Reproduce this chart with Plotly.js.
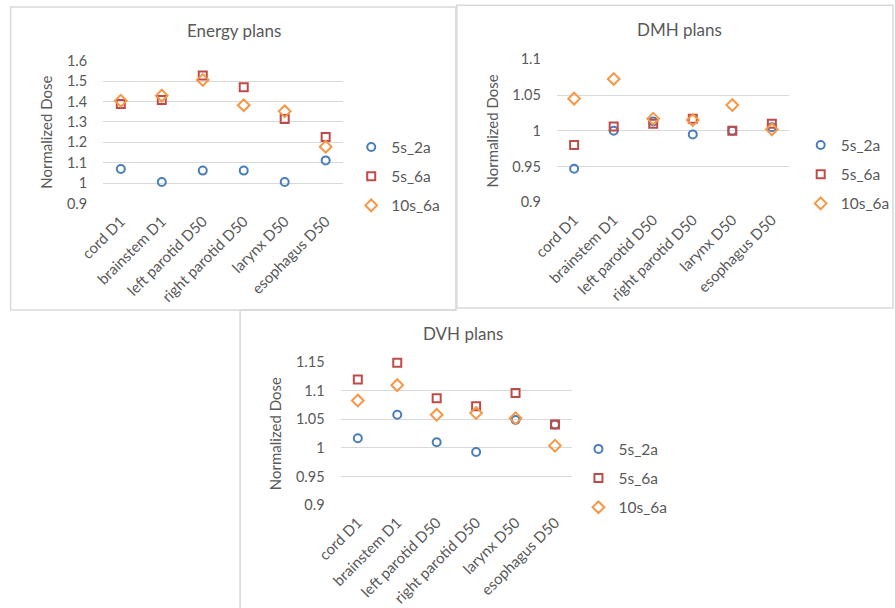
<!DOCTYPE html>
<html>
<head>
<meta charset="utf-8">
<script src="https://cdn.plot.ly/plotly-3.0.1.min.js"></script>
<style>html,body{margin:0;padding:0;background:#fff;}#chart{width:895px;height:608px;}</style>
</head>
<body>
<div id="chart"></div>
<script>
// Categories shared by all three panels
const categories = ["cord D1", "brainstem D1", "left parotid D50", "right parotid D50", "larynx D50", "esophagus D50"];
const seriesNames = ["5s_2a", "5s_6a", "10s_6a"];

// Energy plans
const energy_5s_2a  = [1.07, 1.006, 1.062, 1.062, 1.006, 1.112];
const energy_5s_6a  = [1.388, 1.408, 1.528, 1.47, 1.315, 1.227];
const energy_10s_6a = [1.404, 1.429, 1.506, 1.382, 1.352, 1.179];

// DMH plans
const dmh_5s_2a  = [0.947, 1.0, 1.013, 0.995, 1.0, 1.005];
const dmh_5s_6a  = [0.980, 1.006, 1.01, 1.017, 1.0, 1.01];
const dmh_10s_6a = [1.045, 1.0725, 1.017, 1.015, 1.036, 1.002];

// DVH plans
const dvh_5s_2a  = [1.017, 1.058, 1.01, 0.993, 1.049, 1.041];
const dvh_5s_6a  = [1.12, 1.149, 1.087, 1.073, 1.096, 1.041];
const dvh_10s_6a = [1.083, 1.11, 1.058, 1.061, 1.052, 1.004];

const W = 895, H = 608;
const px = v => v / W;
const py = v => 1 - v / H;

const colors = ["#4a7ebb", "#be4b48", "#f79646"];
const symbols = ["circle-open", "square-open", "diamond-open"];
const sizes = [8, 8, 9];
const textColor = "#595959";
const FONT = "Lato, 'Open Sans', sans-serif";

function makeTraces(sets, axisSuffix, legendId) {
  return sets.map((vals, i) => ({
    type: "scatter",
    mode: "markers",
    x: categories,
    y: vals,
    name: seriesNames[i],
    xaxis: "x" + axisSuffix,
    yaxis: "y" + axisSuffix,
    legend: legendId,
    legendgroup: legendId + "_" + i,
    cliponaxis: false,
    marker: {symbol: symbols[i], size: sizes[i], color: colors[i], line: {width: 2, color: colors[i]}},
    hoverinfo: "x+y+name"
  }));
}

const traces = [].concat(
  makeTraces([energy_5s_2a, energy_5s_6a, energy_10s_6a], "", "legend"),
  makeTraces([dmh_5s_2a, dmh_5s_6a, dmh_10s_6a], "2", "legend2"),
  makeTraces([dvh_5s_2a, dvh_5s_6a, dvh_10s_6a], "3", "legend3")
);

function xAxis(domain, anchor) {
  return {
    domain: domain, anchor: anchor, type: "category",
    tickangle: -45, showgrid: false, zeroline: false, showline: false,
    ticks: "", ticklabelstandoff: 5,
    tickfont: {family: FONT, size: 15, color: textColor},
    fixedrange: true
  };
}
function yAxis(domain, anchor, range, dtick) {
  return {
    domain: domain, anchor: anchor, range: range, dtick: dtick, tick0: 0.9,
    showgrid: true, gridcolor: "#d9d9d9", gridwidth: 1,
    zeroline: false, showline: false, ticks: "",
    ticklabelstandoff: 15,
    tickfont: {family: FONT, size: 14.5, color: textColor},
    title: {text: "Normalized Dose", font: {family: FONT, size: 15, color: textColor}, standoff: 10},
    fixedrange: true
  };
}
function legendAt(xm, ymid) {
  return {
    x: px(xm - 20), y: py(ymid), xanchor: "left", yanchor: "middle",
    xref: "paper", yref: "paper",
    font: {family: FONT, size: 15.5, color: textColor},
    bgcolor: "rgba(0,0,0,0)", borderwidth: 0,
    tracegroupgap: 6, traceorder: "grouped",
    itemclick: false, itemdoubleclick: false
  };
}
function title(text, xc, yc) {
  return {text: text, x: px(xc), y: py(yc), xref: "paper", yref: "paper",
    xanchor: "center", yanchor: "middle", showarrow: false,
    font: {family: FONT, size: 17, color: textColor}};
}
const boxLine = {color: "#d9d9d9", width: 1.5};

const layout = {
  width: W, height: H,
  margin: {l: 0, r: 0, t: 0, b: 0},
  paper_bgcolor: "#ffffff", plot_bgcolor: "rgba(0,0,0,0)",
  font: {family: FONT, color: textColor},
  xaxis: xAxis([px(104), px(346)], "y"),
  yaxis: yAxis([py(203.7), py(60.7)], "x", [0.9, 1.6], 0.1),
  xaxis2: xAxis([px(561.3), px(795.3)], "y2"),
  yaxis2: yAxis([py(202.3), py(59.3)], "x2", [0.9, 1.1], 0.05),
  xaxis3: xAxis([px(343.3), px(576.7)], "y3"),
  yaxis3: yAxis([py(505), py(362.3)], "x3", [0.9, 1.15], 0.05),
  legend: legendAt(374, 176.5),
  legend2: legendAt(827, 174.5),
  legend3: legendAt(603, 478.3),
  annotations: [
    title("Energy plans", 236, 30.5),
    title("DMH plans", 685, 30),
    title("DVH plans", 467, 333)
  ],
  shapes: [
    {type: "rect", xref: "paper", yref: "paper", x0: px(10.7), x1: px(459.5), y0: py(310), y1: py(7), line: boxLine, layer: "below"},
    {type: "rect", xref: "paper", yref: "paper", x0: px(460.5), x1: px(900), y0: py(308), y1: py(5.3), line: boxLine, layer: "below"},
    {type: "line", xref: "paper", yref: "paper", x0: px(242), x1: px(242), y0: py(310), y1: py(612), line: boxLine, layer: "below"},
    {type: "line", xref: "paper", yref: "paper", x0: px(242), x1: px(460), y0: py(310), y1: py(310), line: boxLine, layer: "below"}
  ],
  showlegend: true,
  hovermode: "closest"
};

Plotly.newPlot("chart", traces, layout, {displayModeBar: false, staticPlot: false, responsive: false});
</script>
</body>
</html>
